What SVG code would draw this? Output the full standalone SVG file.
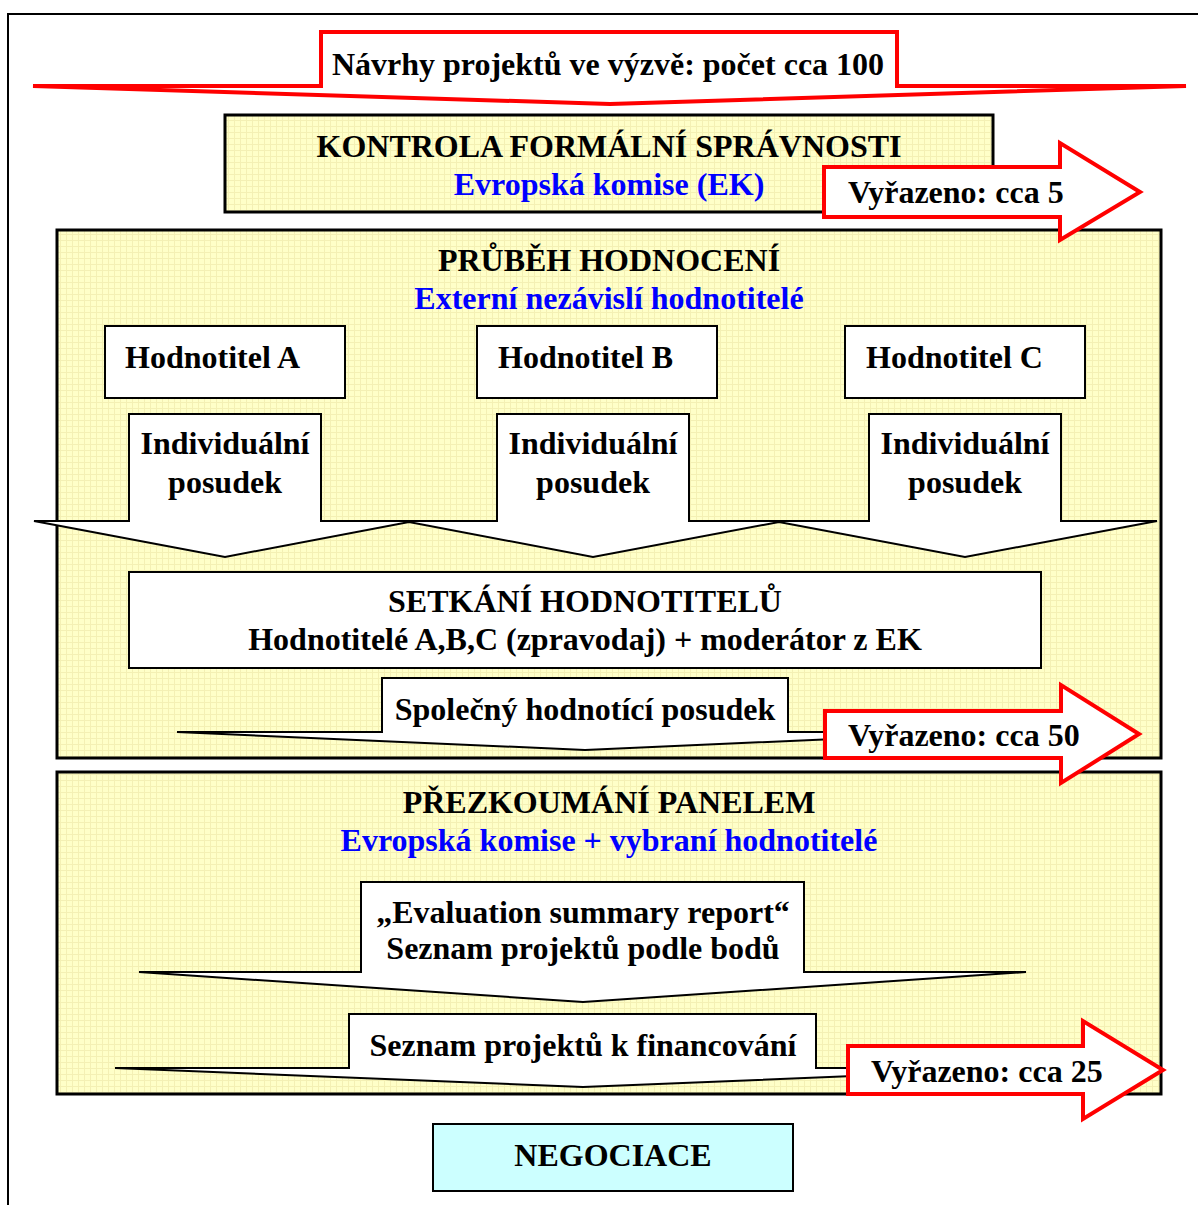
<svg xmlns="http://www.w3.org/2000/svg" width="1198" height="1205" viewBox="0 0 1198 1205">
<style>
text{font-family:"Liberation Serif","Times New Roman",serif;font-weight:bold;font-size:32px;fill:#000}
.c{text-anchor:middle}
.blue{fill:#0000FF}
.panel{fill:url(#grid);stroke:#000;stroke-width:3}
.box{fill:#fff;stroke:#000;stroke-width:2}
.warrow{fill:#fff;stroke:#000;stroke-width:2;stroke-linejoin:miter}
.rarrow{fill:#fff;stroke:#FF0000;stroke-width:4;stroke-linejoin:miter}
</style>
<defs>
<pattern id="grid" width="6" height="6" patternUnits="userSpaceOnUse">
<rect width="6" height="6" fill="#FFFFC8"/>
<path d="M0 0.5H6M0.5 0V6" stroke="#F4F0B4" stroke-width="1"/>
</pattern>
</defs>
<rect width="1198" height="1205" fill="#fff"/>
<g id="frame">
<path d="M8 1205V14H1198" fill="none" stroke="#000" stroke-width="2"/>
</g>
<g id="connectors">
<path id="top-arrow" class="rarrow" d="M33 86H321V32H897V86H1186L610 104Z"/>
</g>
<g id="n-navrhy">
<text class="c" x="608" y="75">Návrhy projektů ve výzvě: počet cca 100</text>
</g>
<g id="n-kontrola">
<rect class="panel" x="225" y="115" width="768" height="97"/>
<text class="c" x="609" y="157">KONTROLA FORMÁLNÍ SPRÁVNOSTI</text>
<text class="c blue" x="609" y="195">Evropská komise (EK)</text>
</g>
<g id="n-prubeh">
<rect class="panel" x="57" y="230" width="1104" height="528"/>
<text class="c" x="609" y="271">PRŮBĚH HODNOCENÍ</text>
<text class="c blue" x="609" y="309">Externí nezávislí hodnotitelé</text>
</g>
<g id="n-vyrazeno5">
<path class="rarrow" d="M824 167H1060V143L1140 192L1060 240V217H824Z"/>
<text x="848" y="203">Vyřazeno: cca 5</text>
</g>
<g id="n-hodA">
<rect class="box" x="105" y="326" width="240" height="72"/>
<text x="125" y="368">Hodnotitel A</text>
</g>
<g id="n-hodB">
<rect class="box" x="477" y="326" width="240" height="72"/>
<text x="498" y="368">Hodnotitel B</text>
</g>
<g id="n-hodC">
<rect class="box" x="845" y="326" width="240" height="72"/>
<text x="866" y="368">Hodnotitel C</text>
</g>
<g id="n-posudky">
<path class="warrow" d="M34 521H129V414H321V521H497V414H689V521H869V414H1061V521H1157L965 557L779 522L593 557L409 522L225 557Z"/>
<text class="c" x="225" y="454">Individuální</text>
<text class="c" x="225" y="493">posudek</text>
<text class="c" x="593" y="454">Individuální</text>
<text class="c" x="593" y="493">posudek</text>
<text class="c" x="965" y="454">Individuální</text>
<text class="c" x="965" y="493">posudek</text>
</g>
<g id="n-setkani">
<rect class="box" x="129" y="572" width="912" height="96"/>
<text class="c" x="585" y="612">SETKÁNÍ HODNOTITELŮ</text>
<text class="c" x="585" y="650">Hodnotitelé A,B,C (zpravodaj) + moderátor z EK</text>
</g>
<g id="n-spolecny">
<path class="warrow" d="M177 732H382V678H788V732H992L585 750Z"/>
<text class="c" x="585" y="720">Společný hodnotící posudek</text>
</g>
<g id="n-panel">
<rect class="panel" x="57" y="772" width="1104" height="322"/>
<text class="c" x="609" y="813">PŘEZKOUMÁNÍ PANELEM</text>
<text class="c blue" x="609" y="851">Evropská komise + vybraní hodnotitelé</text>
</g>
<g id="n-vyrazeno50">
<path class="rarrow" d="M825 711H1061V685L1139 734L1061 783V758H825Z"/>
<text x="848" y="746">Vyřazeno: cca 50</text>
</g>
<g id="n-esr">
<path class="warrow" d="M139 972H361V882H804V972H1026L583 1002Z"/>
<text class="c" x="583" y="923">„Evaluation summary report“</text>
<text class="c" x="583" y="959">Seznam projektů podle bodů</text>
</g>
<g id="n-financovani">
<path class="warrow" d="M115 1068H349V1014H816V1068H1051L583 1087Z"/>
<text class="c" x="583" y="1056">Seznam projektů k financování</text>
</g>
<g id="n-vyrazeno25">
<path class="rarrow" d="M848 1046H1083V1021L1163 1070L1083 1119V1094H848Z"/>
<text x="871" y="1082">Vyřazeno: cca 25</text>
</g>
<g id="n-negociace">
<rect class="box" x="433" y="1124" width="360" height="67" style="fill:#CCFFFF"/>
<text class="c" x="613" y="1166">NEGOCIACE</text>
</g>
</svg>
